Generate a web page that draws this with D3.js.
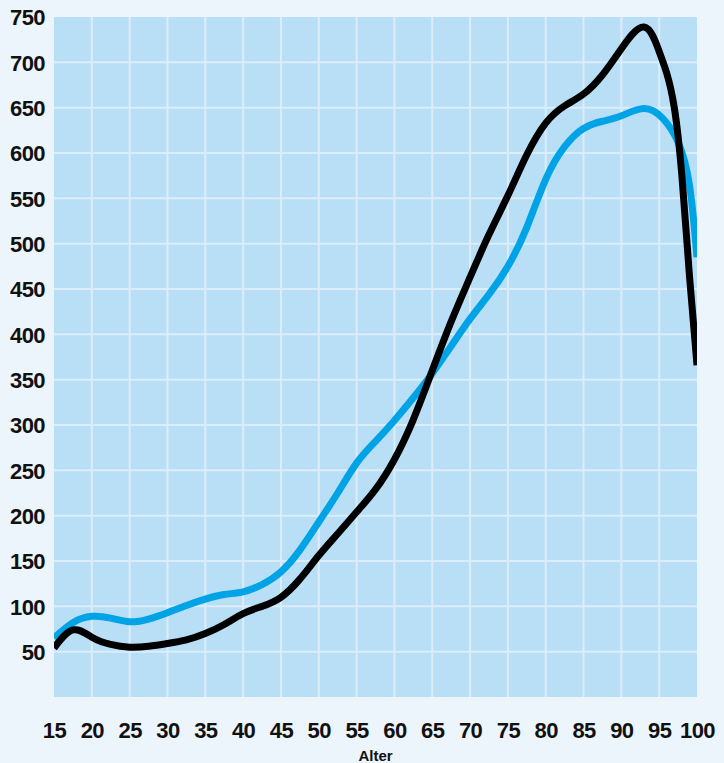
<!DOCTYPE html>
<html>
<head>
<meta charset="utf-8">
<script src="https://cdn.jsdelivr.net/npm/d3@7"></script>
<style>
  html, body { margin: 0; padding: 0; background: #edf5fc; }
  svg { display: block; }
</style>
</head>
<body>
<div id="chart"></div>
<script>
// Alter (age) on x, values on y
const xTicks = [15, 20, 25, 30, 35, 40, 45, 50, 55, 60, 65, 70, 75, 80, 85, 90, 95, 100];
const yTicks = [50, 100, 150, 200, 250, 300, 350, 400, 450, 500, 550, 600, 650, 700, 750];

const blackAge = [15, 17.5, 20, 22.5, 25, 27.5, 30, 32.5, 35, 37.5, 40, 42.5, 45, 47.5, 50, 52.5, 55, 57.5, 60, 62.5, 65, 67.5, 70, 72.5, 75, 77.5, 80, 82.5, 85, 87.5, 90, 93, 95, 96, 97, 98, 99, 100];
const blackVal = [54, 74, 66, 58, 55, 56, 59, 63, 70, 80, 92, 100, 110, 130, 156, 180, 204, 229, 262, 306, 360, 414, 463, 510, 553, 598, 633, 652, 665, 686, 715, 739, 712, 688, 650, 575, 465, 366];

const blueAge = [15, 17.5, 20, 22.5, 25, 27.5, 30, 32.5, 35, 37.5, 40, 42.5, 45, 47.5, 50, 52.5, 55, 57.5, 60, 62.5, 65, 67.5, 70, 72.5, 75, 77.5, 80, 82.5, 85, 87.5, 90, 93, 95.5, 97.5, 99, 100];
const blueVal = [65, 82, 89, 87, 83, 86, 93, 101, 108, 113, 116, 124, 138, 162, 193, 225, 258, 282, 305, 330, 357, 387, 417, 444, 475, 518, 571, 607, 627, 635, 641, 649, 638, 612, 565, 485];

const width = 724, height = 763;
const plot = { left: 54, right: 697, top: 17, bottom: 697 };

const x = d3.scaleLinear().domain([15, 100]).range([plot.left, plot.right]);
const y = d3.scaleLinear().domain([0, 750]).range([plot.bottom, plot.top]);

const svg = d3.select("#chart")
  .append("svg")
    .attr("width", width)
    .attr("height", height)
    .attr("font-family", "'Liberation Sans', Arial, sans-serif");

svg.append("rect")
  .attr("width", width).attr("height", height)
  .attr("fill", "#edf5fc");

svg.append("rect")
  .attr("x", plot.left).attr("y", plot.top)
  .attr("width", plot.right - plot.left)
  .attr("height", plot.bottom - plot.top)
  .attr("fill", "#b8dff6");

svg.append("clipPath").attr("id", "clip")
  .append("rect")
  .attr("x", plot.left).attr("y", plot.top)
  .attr("width", plot.right - plot.left)
  .attr("height", plot.bottom - plot.top);

// grid
const grid = svg.append("g")
  .attr("stroke", "#dcedf9")
  .attr("stroke-width", 2);

grid.selectAll("line.v")
  .data(xTicks.slice(1, -1))
  .join("line")
  .attr("class", "v")
  .attr("x1", d => x(d)).attr("x2", d => x(d))
  .attr("y1", plot.top).attr("y2", plot.bottom);

grid.selectAll("line.h")
  .data(yTicks.slice(0, -1))
  .join("line")
  .attr("class", "h")
  .attr("x1", plot.left).attr("x2", plot.right)
  .attr("y1", d => y(d)).attr("y2", d => y(d));

// axes (labels only)
const yAxis = svg.append("g")
  .attr("transform", `translate(${plot.left},0)`)
  .call(d3.axisLeft(y).tickValues(yTicks).tickSize(0).tickPadding(9));
yAxis.select(".domain").remove();
yAxis.selectAll("text")
  .attr("font-size", 22)
  .attr("font-weight", "bold")
  .attr("letter-spacing", "-0.6")
  .attr("fill", "#111")
  .attr("dy", "0.36em")
  .attr("font-family", "'Liberation Sans', Arial, sans-serif");

const xAxis = svg.append("g")
  .attr("transform", `translate(0,${plot.bottom})`)
  .call(d3.axisBottom(x).tickValues(xTicks).tickSize(0).tickPadding(25));
xAxis.select(".domain").remove();
xAxis.selectAll("text")
  .attr("font-size", 22)
  .attr("font-weight", "bold")
  .attr("letter-spacing", "-0.6")
  .attr("fill", "#111")
  .attr("font-family", "'Liberation Sans', Arial, sans-serif");

svg.append("text")
  .attr("x", (plot.left + plot.right) / 2)
  .attr("y", 761)
  .attr("text-anchor", "middle")
  .attr("font-size", 15)
  .attr("font-weight", "bold")
  .attr("fill", "#111")
  .text("Alter");

// lines
const line = d3.line()
  .x(d => x(d[0]))
  .y(d => y(d[1]))
  .curve(d3.curveNatural);

const lines = svg.append("g").attr("clip-path", "url(#clip)")
  .attr("fill", "none")
  .attr("stroke-width", 7)
  .attr("stroke-linejoin", "round");

lines.append("path")
  .attr("stroke", "#00a3e6")
  .attr("d", line(d3.zip(blueAge, blueVal)));

lines.append("path")
  .attr("stroke", "#000")
  .attr("d", line(d3.zip(blackAge, blackVal)));
</script>
</body>
</html>
